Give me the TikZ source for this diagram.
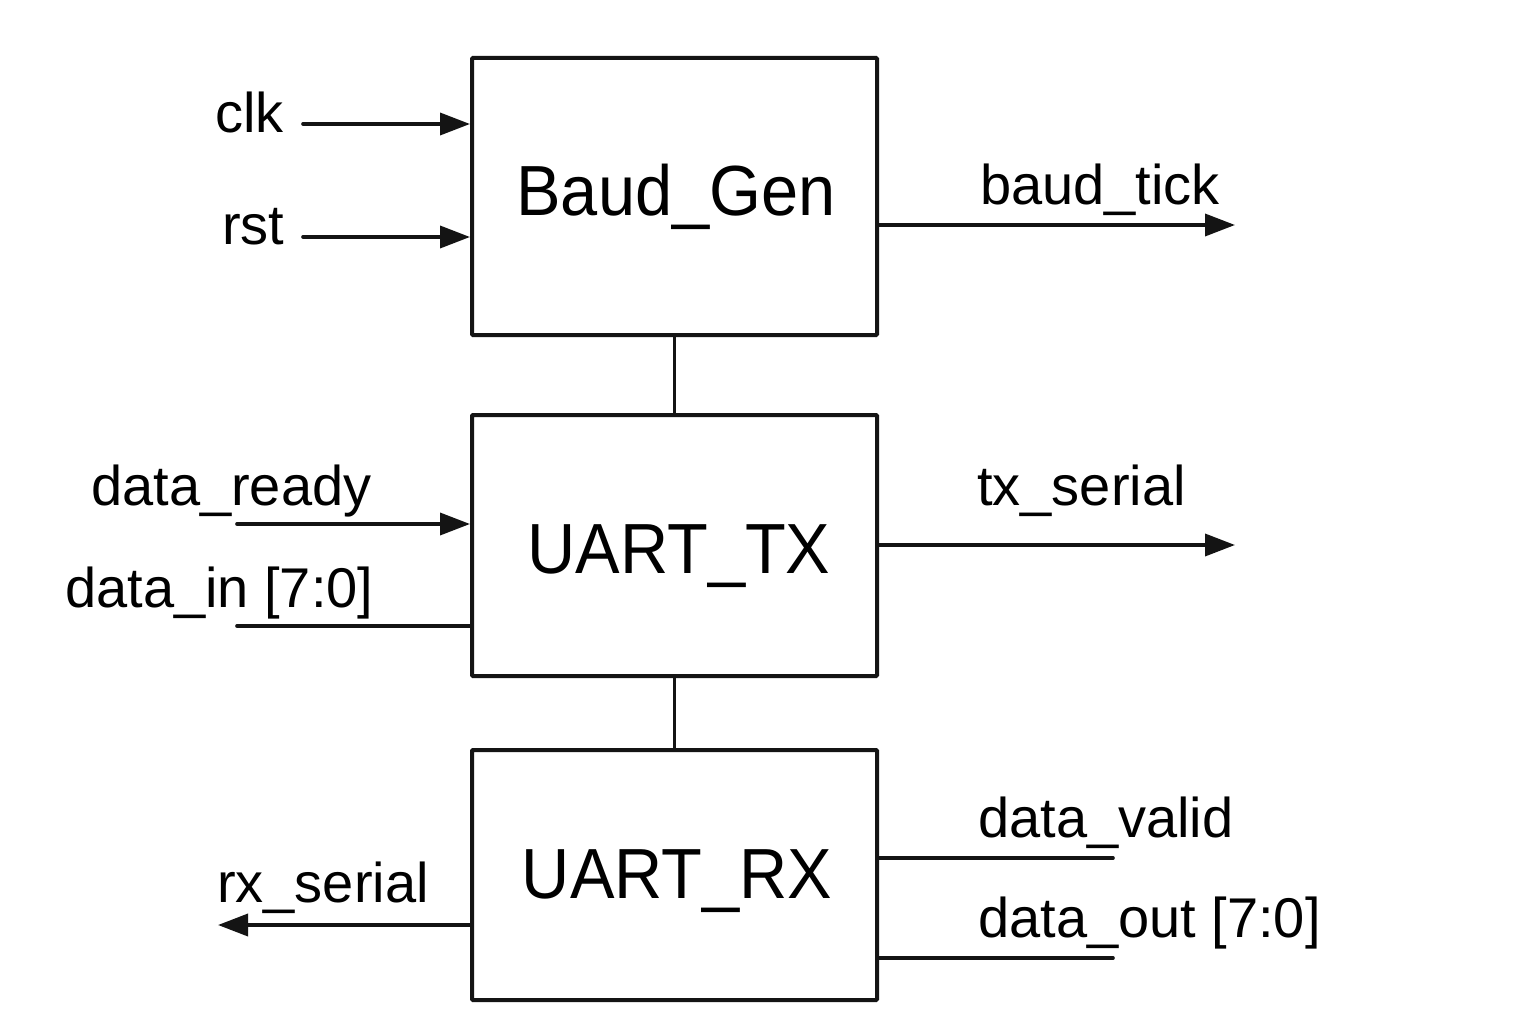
\documentclass[tikz,border=0pt]{standalone}
\usepackage{fontspec}
\setmainfont{Liberation Sans}
\usetikzlibrary{arrows.meta}
\begin{document}
\begin{tikzpicture}[x=1pt,y=-1pt,
  blk/.style={draw=black!92, line width=4pt, anchor=north west, inner sep=0pt, rounded corners=1pt},
  blabel/.style={anchor=base, inner sep=0pt, font=\fontsize{71pt}{80pt}\selectfont\addfontfeature{FakeStretch=0.94}},
  plabel/.style={anchor=base west, inner sep=0pt, font=\fontsize{56pt}{66pt}\selectfont},
  wire/.style={line width=3.6pt, black!92, line cap=round},
  arr/.style={wire, -{Triangle[length=30pt,width=22pt]}}]
\useasboundingbox (0,0) rectangle (1536,1024);
\fill[white] (0,0) rectangle (1536,1024);
% blocks
\node[blk, minimum width=405pt, minimum height=277pt] (baud) at (470,56) {};
\node[blk, minimum width=405pt, minimum height=261pt] (tx) at (470,413) {};
\node[blk, minimum width=405pt, minimum height=250pt] (rx) at (470,748) {};
\node[blabel] (baudl) at (676,216) {Baud\_Gen};
\node[blabel] (txl) at (679,573) {UART\_TX};
\node[blabel] (rxl) at (677,898) {UART\_RX};
% inter-block links
\draw[wire] (baud.south) -- (tx.north);
\draw[wire] (tx.south) -- (rx.north);
% port coordinates
\coordinate (clk) at (303,124);
\coordinate (rst) at (303,237);
\coordinate (bt) at (1235,225);
\coordinate (dr) at (237,524);
\coordinate (di) at (237,626);
\coordinate (ts) at (1235,545);
\coordinate (rs) at (218,925);
\coordinate (dv) at (1113,858);
\coordinate (do) at (1113,958);
% connectors
\draw[arr] (clk) -- (baud.west |- clk);
\draw[arr] (rst) -- (baud.west |- rst);
\draw[arr] (baud.east |- bt) -- (bt);
\draw[arr] (dr) -- (tx.west |- dr);
\draw[wire] (di) -- (tx.west |- di);
\draw[arr] (tx.east |- ts) -- (ts);
\draw[arr] (rx.west |- rs) -- (rs);
\draw[wire] (rx.east |- dv) -- (dv);
\draw[wire] (rx.east |- do) -- (do);
% labels
\node[plabel] (clkl) at (215,133) {clk};
\node[plabel] (rstl) at (222,245) {rst};
\node[plabel] (btl) at (980,205) {baud\_tick};
\node[plabel] (drl) at (91,505) {data\_ready};
\node[plabel] (dil) at (65,607) {data\_in [7:0]};
\node[plabel] (tsl) at (977,505) {tx\_serial};
\node[plabel] (rsl) at (217,902) {rx\_serial};
\node[plabel] (dvl) at (978,837) {data\_valid};
\node[plabel] (dol) at (978,937) {data\_out [7:0]};
\end{tikzpicture}
\end{document}
